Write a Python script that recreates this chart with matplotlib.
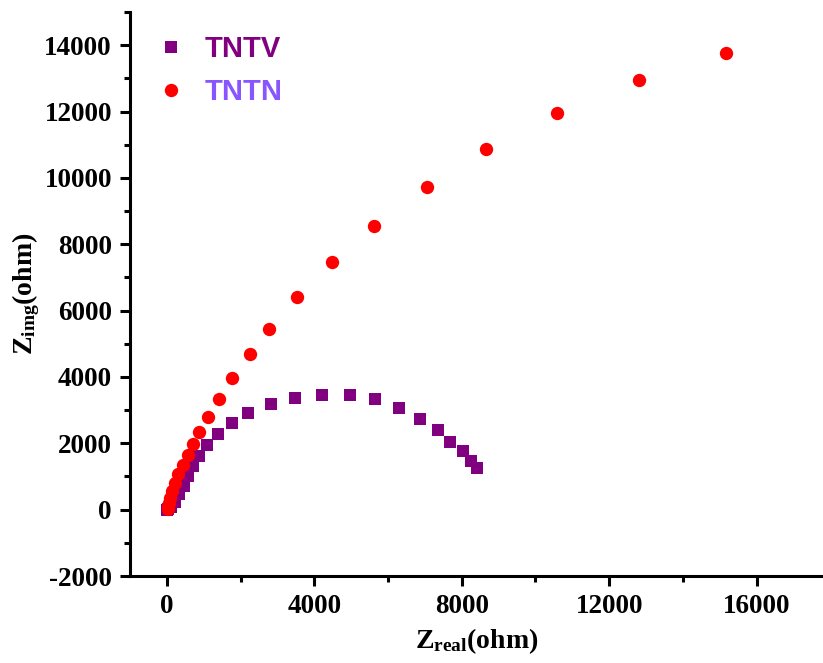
import numpy as np
import matplotlib
matplotlib.use('Agg')
import matplotlib.pyplot as plt
from matplotlib.ticker import MultipleLocator

plt.rcParams.update({
    'font.family': 'Liberation Serif',
    'font.weight': 'bold',
    'axes.unicode_minus': False,
    'mathtext.fontset': 'custom',
    'mathtext.rm': 'Liberation Serif:bold',
    'mathtext.it': 'Liberation Serif:bold',
    'mathtext.bf': 'Liberation Serif:bold',
})

# TNTV (squares)
tntv_real = [0, 40, 122, 230, 339, 456, 564, 700, 873, 1098, 1389, 1771, 2210, 2815,
             3485, 4198, 4957, 5655, 6305, 6875, 7363, 7688, 8041, 8258, 8421]
tntv_img = [0, 20, 90, 241, 483, 724, 1026, 1327, 1629, 1952, 2284, 2616, 2917, 3198,
            3379, 3470, 3449, 3340, 3068, 2746, 2414, 2052, 1780, 1478, 1267]

# TNTN (circles)
tntn_real = [20, 27, 41, 68, 95, 150, 230, 312, 428, 564, 700, 881, 1117, 1405, 1776,
             2264, 2780, 3539, 4488, 5627, 7065, 8665, 10589, 12813, 15180]
tntn_img = [15, 60, 121, 211, 362, 573, 815, 1086, 1358, 1659, 1982, 2344, 2797, 3349, 3982,
            4706, 5431, 6396, 7452, 8538, 9715, 10861, 11947, 12943, 13757]

series_labels = ['TNTV', 'TNTN']

fig = plt.figure(figsize=(8.23, 6.63), dpi=100)
ax = fig.add_axes([130 / 823, 87 / 663, 1 - 130 / 823, (576 - 12) / 663])

ax.plot(tntv_real, tntv_img, 's', color='#800080', markersize=8.5, markeredgewidth=0,
        label=series_labels[0], zorder=3)
ax.plot(tntn_real, tntn_img, 'o', color='#FF0000', markersize=9.6, markeredgewidth=0,
        label=series_labels[1], zorder=4)

ax.set_xlim(-1000, 17800)
ax.set_ylim(-2000, 15000)
ax.xaxis.set_major_locator(MultipleLocator(4000))
ax.xaxis.set_minor_locator(MultipleLocator(2000))
ax.yaxis.set_major_locator(MultipleLocator(2000))
ax.yaxis.set_minor_locator(MultipleLocator(1000))

for s in ['top', 'right']:
    ax.spines[s].set_visible(False)
for s in ['left', 'bottom']:
    ax.spines[s].set_linewidth(2.2)

ax.tick_params(which='major', direction='out', length=7, width=2.2, labelsize=19.5, pad=6)
ax.tick_params(which='minor', direction='out', length=4, width=2.2)
for lab in ax.get_xticklabels() + ax.get_yticklabels():
    lab.set_fontweight('bold')

ax.set_xlabel('Z$_{\\mathrm{real}}$(ohm)', fontsize=20, fontweight='bold', labelpad=5)
ax.set_ylabel('Z$_{\\mathrm{img}}$(ohm)', fontsize=20, fontweight='bold', labelpad=2)

leg = ax.legend(loc='upper left', bbox_to_anchor=(0.005, 0.995), frameon=False,
                prop={'family': 'Liberation Sans', 'weight': 'bold', 'size': 21},
                handletextpad=0.55, borderaxespad=0.3, labelspacing=0.5,
                handlelength=1.2, markerscale=1.0)
for txt, c in zip(leg.get_texts(), ['#800080', '#8855FF']):
    txt.set_color(c)

fig.savefig('out.png', dpi=100)
